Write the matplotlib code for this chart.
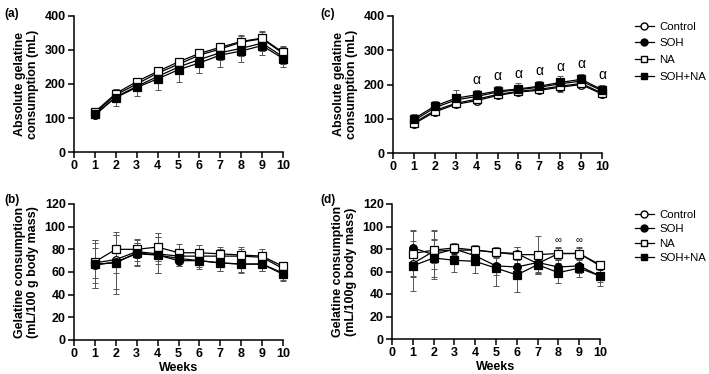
import numpy as np
import matplotlib
matplotlib.use('Agg')
import matplotlib.pyplot as plt
from matplotlib.lines import Line2D

plt.rcParams['font.family'] = ['Liberation Sans', 'DejaVu Sans']

weeks = np.arange(1, 11)
groups = ['Control', 'SOH', 'NA', 'SOH+NA']

# (a) absolute gelatine consumption (mL)
a_mean = {
    'Control': [115, 168, 200, 232, 258, 285, 303, 323, 333, 290],
    'SOH':     [108, 162, 193, 222, 250, 272, 292, 305, 320, 280],
    'NA':      [118, 172, 207, 237, 265, 290, 308, 325, 335, 293],
    'SOH+NA':  [112, 160, 190, 215, 242, 262, 285, 297, 313, 275],
}
a_sd = {
    'Control': [8, 12, 12, 14, 14, 15, 15, 18, 20, 18],
    'SOH':     [8, 14, 14, 18, 20, 20, 22, 22, 22, 20],
    'NA':      [8, 12, 12, 12, 12, 12, 12, 18, 20, 18],
    'SOH+NA':  [10, 25, 25, 33, 35, 30, 35, 32, 28, 25],
}

# (b) gelatine consumption per body mass
b_mean = {
    'Control': [68, 71, 78, 76, 74, 74, 74, 74, 73, 63],
    'SOH':     [66, 69, 76, 75, 70, 70, 68, 67, 67, 59],
    'NA':      [69, 80, 80, 82, 77, 77, 76, 75, 74, 65],
    'SOH+NA':  [67, 68, 77, 75, 72, 70, 68, 67, 67, 58],
}
b_sd = {
    'Control': [13, 12, 8, 9, 6, 6, 6, 6, 5, 4],
    'SOH':     [20, 24, 10, 16, 5, 6, 7, 8, 6, 6],
    'NA':      [19, 13, 8, 12, 8, 7, 6, 7, 6, 3],
    'SOH+NA':  [21, 27, 12, 16, 7, 7, 7, 7, 6, 6],
}

# (c) absolute gelatine consumption
c_mean = {
    'Control': [85, 120, 142, 153, 168, 178, 183, 192, 200, 172],
    'SOH':     [95, 132, 155, 165, 178, 185, 192, 202, 210, 182],
    'NA':      [88, 124, 145, 157, 171, 180, 186, 195, 203, 175],
    'SOH+NA':  [100, 137, 160, 170, 181, 187, 195, 206, 215, 185],
}
c_sd = {
    'Control': [8, 8, 8, 10, 8, 8, 8, 10, 10, 8],
    'SOH':     [10, 10, 12, 12, 10, 10, 10, 12, 12, 10],
    'NA':      [8, 10, 10, 12, 10, 10, 12, 18, 14, 10],
    'SOH+NA':  [14, 14, 24, 15, 15, 16, 16, 18, 17, 14],
}
c_alpha_weeks = [4, 5, 6, 7, 8, 9, 10]

# (d) gelatine consumption per body mass
d_mean = {
    'Control': [67, 78, 79, 79, 77, 76, 67, 76, 76, 65],
    'SOH':     [81, 75, 80, 74, 65, 64, 68, 64, 65, 56],
    'NA':      [76, 79, 81, 79, 77, 75, 75, 76, 76, 66],
    'SOH+NA':  [65, 72, 70, 69, 63, 57, 66, 59, 63, 56],
}
d_sd = {
    'Control': [12, 10, 4, 4, 4, 6, 8, 5, 5, 3],
    'SOH':     [16, 22, 4, 6, 8, 8, 8, 6, 6, 5],
    'NA':      [20, 17, 4, 5, 5, 7, 17, 6, 6, 3],
    'SOH+NA':  [22, 17, 10, 10, 16, 15, 8, 9, 8, 9],
}
d_inf_weeks = [8, 9]

styles = {
    'Control': dict(marker='o', mfc='white'),
    'SOH':     dict(marker='o', mfc='black'),
    'NA':      dict(marker='s', mfc='white'),
    'SOH+NA':  dict(marker='s', mfc='black'),
}

W, H = 709, 374
fig = plt.figure(figsize=(W / 100, H / 100), dpi=100)


def box(l, t, r, b):
    return [l / W, 1 - b / H, (r - l) / W, (b - t) / H]


def draw(ax, means, sds, ymax, ystep):
    for g in groups:
        st = styles[g]
        ax.errorbar(weeks, means[g], yerr=sds[g], fmt='none', ecolor='#555555',
                    elinewidth=0.7, capsize=2, capthick=0.7, clip_on=False, zorder=2)
        ax.plot(weeks, means[g], color='black', lw=0.9, marker=st['marker'],
                mfc=st['mfc'], mec='black', mew=0.9, ms=5.5, clip_on=False, zorder=3)
    ax.set_xlim(0, 10)
    ax.set_ylim(0, ymax)
    ax.set_xticks(range(0, 11))
    ax.set_yticks(np.arange(0, ymax + 1, ystep))
    for s in ['top', 'right']:
        ax.spines[s].set_visible(False)
    for s in ['left', 'bottom']:
        ax.spines[s].set_linewidth(1.1)
    ax.tick_params(direction='out', length=4, width=1.1, labelsize=9, pad=2)
    for lab in ax.get_xticklabels() + ax.get_yticklabels():
        lab.set_fontweight('bold')


ax_a = fig.add_axes(box(74, 16, 283, 152))
ax_c = fig.add_axes(box(393, 16, 602, 153))
ax_b = fig.add_axes(box(74, 204, 283, 340))
ax_d = fig.add_axes(box(392, 204, 600, 339))

draw(ax_a, a_mean, a_sd, 400, 100)
draw(ax_c, c_mean, c_sd, 400, 100)
draw(ax_b, b_mean, b_sd, 120, 20)
draw(ax_d, d_mean, d_sd, 120, 20)

lab_kw = dict(fontsize=9, fontweight='bold', linespacing=1.1)
ax_a.set_ylabel('Absolute gelatine\nconsumption (mL)', labelpad=4, **lab_kw)
ax_c.set_ylabel('Absolute gelatine\nconsumption (mL)', labelpad=4, **lab_kw)
ax_b.set_ylabel('Gelatine consumption\n(mL/100 g body mass)', labelpad=4, **lab_kw)
ax_d.set_ylabel('Gelatine consumption\n(mL/100g body mass)', labelpad=4, **lab_kw)
ax_b.set_xlabel('Weeks', fontsize=9, fontweight='bold', labelpad=1)
ax_d.set_xlabel('Weeks', fontsize=9, fontweight='bold', labelpad=1)

# significance marks
for w in c_alpha_weeks:
    i = w - 1
    top = c_mean['SOH+NA'][i] + c_sd['SOH+NA'][i]
    ax_c.annotate('α', (w, top), xytext=(0, 2), textcoords='offset points',
                  ha='center', va='bottom', fontsize=10)
for w in d_inf_weeks:
    i = w - 1
    top = d_mean['NA'][i] + d_sd['NA'][i]
    ax_d.annotate('∞', (w, top), xytext=(0, 1), textcoords='offset points',
                  ha='center', va='bottom', fontsize=7)

# panel letters
for txt, x, y in [('(a)', 4, 8), ('(c)', 320, 8), ('(b)', 4, 194), ('(d)', 320, 194)]:
    fig.text(x / W, 1 - y / H, txt, fontsize=8.5, fontweight='bold', va='top')

handles = [Line2D([], [], color='black', lw=0.9, marker=styles[g]['marker'],
                  mfc=styles[g]['mfc'], mec='black', ms=5) for g in groups]
for y0, sp in [(17, 0.6), (205, 0.4)]:
    fig.legend(handles, groups, loc='upper left', bbox_to_anchor=(630 / W, 1 - y0 / H),
               frameon=False, fontsize=8.2, handlelength=1.7, handletextpad=0.45,
               labelspacing=sp, borderaxespad=0)

fig.savefig('out.png', dpi=100)
